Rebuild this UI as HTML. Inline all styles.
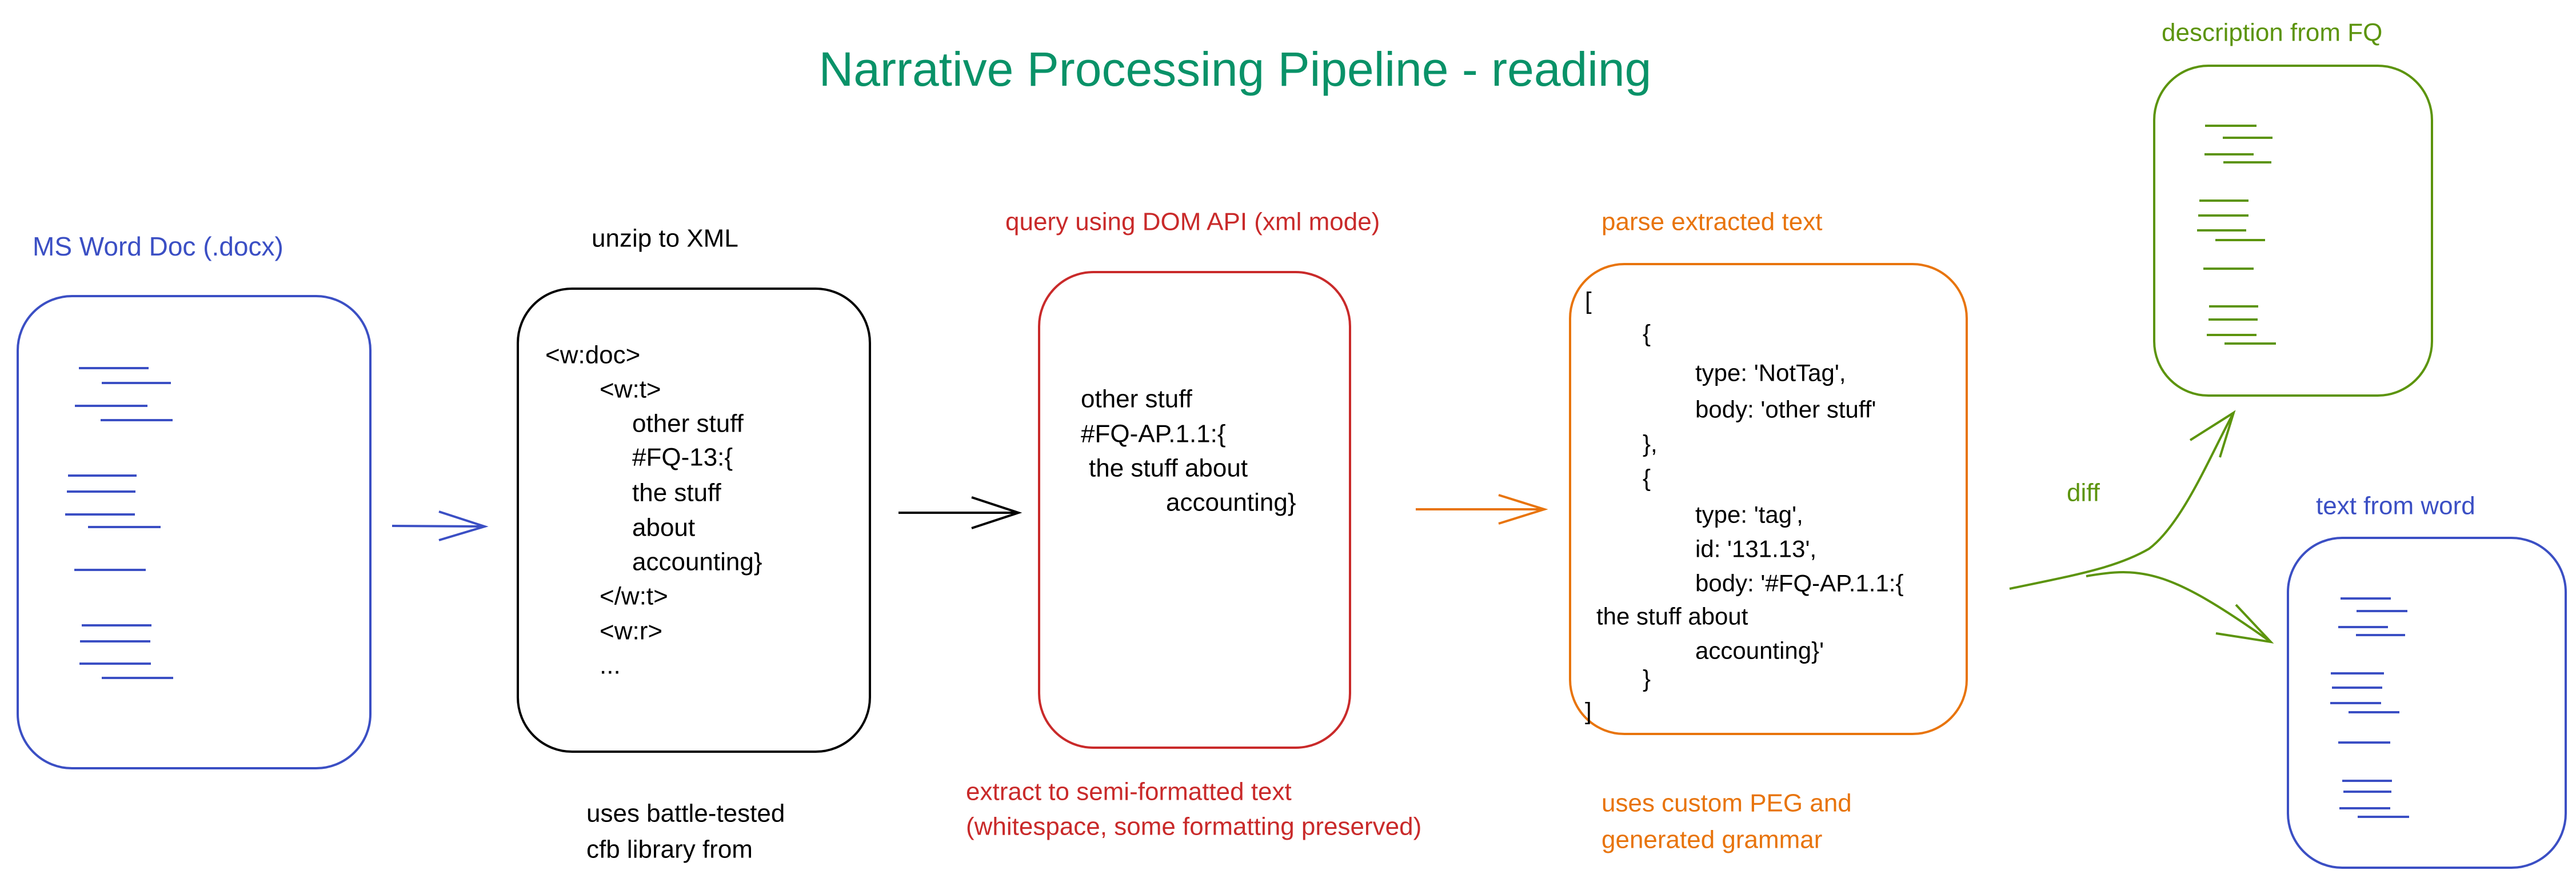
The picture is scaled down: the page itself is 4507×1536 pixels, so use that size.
<!DOCTYPE html>
<html><head><meta charset="utf-8"><style>
html,body{margin:0;padding:0;background:#fff}
svg{display:block}
text{font-family:"Liberation Sans",sans-serif;dominant-baseline:central}
</style></head><body>
<svg width="4507" height="1536" viewBox="0 0 4507 1536" xmlns="http://www.w3.org/2000/svg">
<text x="2161" y="121" font-size="84" fill="#099268" text-anchor="middle">Narrative Processing Pipeline - reading</text>

<!-- Word doc -->
<text x="57" y="431" font-size="46" fill="#3b4fc4">MS Word Doc (.docx)</text>
<rect x="31" y="518" width="617" height="826" rx="95" fill="none" stroke="#3b4fc4" stroke-width="4"/>
<g stroke="#3b4fc4" stroke-width="4">
<line x1="138" y1="644" x2="260" y2="644"/><line x1="178" y1="670" x2="299" y2="670"/>
<line x1="131" y1="710" x2="258" y2="710"/><line x1="176" y1="735" x2="302" y2="735"/>
<line x1="119" y1="832" x2="239" y2="832"/><line x1="117" y1="860" x2="237" y2="860"/>
<line x1="114" y1="900" x2="236" y2="900"/><line x1="154" y1="922" x2="281" y2="922"/>
<line x1="130" y1="997" x2="255" y2="997"/><line x1="143" y1="1094" x2="265" y2="1094"/>
<line x1="140" y1="1122" x2="263" y2="1122"/><line x1="139" y1="1161" x2="264" y2="1161"/>
<line x1="178" y1="1186" x2="303" y2="1186"/>
</g>
<g stroke="#3b4fc4" stroke-width="4" fill="none"><line x1="686" y1="920" x2="848" y2="921"/><polyline points="768,895 848,921 768,945"/></g>

<!-- XML box -->
<text x="1035" y="417" font-size="44" fill="#000">unzip to XML</text>
<rect x="906" y="505" width="616" height="810" rx="95" fill="none" stroke="#000" stroke-width="4"/>
<g font-size="44" fill="#000">
<text x="954" y="621">&lt;w:doc&gt;</text>
<text x="1049" y="681">&lt;w:t&gt;</text>
<text x="1106" y="741">other stuff</text>
<text x="1106" y="800">#FQ-13:{</text>
<text x="1106" y="862">the stuff</text>
<text x="1106" y="923">about</text>
<text x="1106" y="983">accounting}</text>
<text x="1049" y="1043">&lt;/w:t&gt;</text>
<text x="1049" y="1104">&lt;w:r&gt;</text>
<text x="1049" y="1164">...</text>
<text x="1026" y="1423">uses battle-tested</text>
<text x="1026" y="1486">cfb library from</text>
</g>
<g stroke="#000" stroke-width="4" fill="none"><line x1="1572" y1="897" x2="1782" y2="897"/><polyline points="1700,870 1782,897 1700,924"/></g>

<!-- DOM box -->
<text x="1759" y="388" font-size="44" fill="#c92a2a">query using DOM API (xml mode)</text>
<rect x="1818" y="476" width="544" height="832" rx="95" fill="none" stroke="#c92a2a" stroke-width="4"/>
<g font-size="44" fill="#000">
<text x="1891" y="698">other stuff</text>
<text x="1891" y="759">#FQ-AP.1.1:{</text>
<text x="1905" y="819"> the stuff about</text>
<text x="2040" y="879">accounting}</text>
</g>
<g font-size="44" fill="#c92a2a">
<text x="1690" y="1385">extract to semi-formatted text</text>
<text x="1690" y="1446">(whitespace, some formatting preserved)</text>
</g>
<g stroke="#e8740c" stroke-width="4" fill="none"><line x1="2477" y1="891" x2="2702" y2="891"/><polyline points="2622,866 2702,891 2622,916"/></g>

<!-- Parse box -->
<text x="2802" y="388" font-size="44" fill="#e8740c">parse extracted text</text>
<rect x="2747" y="462" width="694" height="822" rx="95" fill="none" stroke="#e8740c" stroke-width="4"/>
<g font-size="42" fill="#000">
<text x="2773" y="526">[</text>
<text x="2874" y="583">{</text>
<text x="2966" y="652">type: 'NotTag',</text>
<text x="2966" y="716">body: 'other stuff'</text>
<text x="2874" y="776">},</text>
<text x="2874" y="836">{</text>
<text x="2966" y="900">type: 'tag',</text>
<text x="2966" y="960">id: '131.13',</text>
<text x="2966" y="1020">body: '#FQ-AP.1.1:{</text>
<text x="2793" y="1078">the stuff about</text>
<text x="2966" y="1138">accounting}'</text>
<text x="2874" y="1187">}</text>
<text x="2773" y="1244">]</text>
</g>
<g font-size="44" fill="#e8740c">
<text x="2802" y="1405">uses custom PEG and</text>
<text x="2802" y="1469">generated grammar</text>
</g>

<!-- diff -->
<text x="3616" y="862" font-size="44" fill="#5c940d">diff</text>
<g stroke="#5c940d" stroke-width="4" fill="none">
<path d="M3516,1030 C3620,1008 3700,995 3760,960 C3820,915 3870,790 3908,722"/>
<path d="M3650,1008 C3750,990 3800,1000 3973,1123"/>
<polyline points="3832,770 3908,722 3884,800"/>
<polyline points="3877,1108 3973,1123 3912,1058"/>
</g>

<!-- Green box -->
<text x="3782" y="57" font-size="44" fill="#5c940d">description from FQ</text>
<rect x="3769" y="115" width="486" height="577" rx="95" fill="none" stroke="#5c940d" stroke-width="4"/>
<g stroke="#5c940d" stroke-width="4">
<line x1="3858" y1="220" x2="3948" y2="220"/><line x1="3889" y1="241" x2="3976" y2="241"/>
<line x1="3857" y1="270" x2="3943" y2="270"/><line x1="3890" y1="284" x2="3974" y2="284"/>
<line x1="3848" y1="351" x2="3934" y2="351"/><line x1="3846" y1="377" x2="3934" y2="377"/>
<line x1="3844" y1="403" x2="3930" y2="403"/><line x1="3876" y1="420" x2="3963" y2="420"/>
<line x1="3855" y1="470" x2="3943" y2="470"/><line x1="3865" y1="536" x2="3951" y2="536"/>
<line x1="3864" y1="559" x2="3950" y2="559"/><line x1="3861" y1="586" x2="3948" y2="586"/>
<line x1="3892" y1="601" x2="3982" y2="601"/>
</g>

<!-- Blue right box -->
<text x="4052" y="885" font-size="44" fill="#3b4fc4">text from word</text>
<rect x="4003" y="941" width="486" height="577" rx="95" fill="none" stroke="#3b4fc4" stroke-width="4"/>
<g stroke="#3b4fc4" stroke-width="4">
<line x1="4095" y1="1047" x2="4183" y2="1047"/><line x1="4123" y1="1069" x2="4212" y2="1069"/>
<line x1="4091" y1="1097" x2="4178" y2="1097"/><line x1="4122" y1="1111" x2="4208" y2="1111"/>
<line x1="4078" y1="1178" x2="4171" y2="1178"/><line x1="4080" y1="1203" x2="4168" y2="1203"/>
<line x1="4077" y1="1230" x2="4166" y2="1230"/><line x1="4109" y1="1246" x2="4198" y2="1246"/>
<line x1="4091" y1="1299" x2="4182" y2="1299"/><line x1="4098" y1="1366" x2="4185" y2="1366"/>
<line x1="4100" y1="1385" x2="4184" y2="1385"/><line x1="4093" y1="1414" x2="4182" y2="1414"/>
<line x1="4125" y1="1429" x2="4215" y2="1429"/>
</g>
</svg>
</body></html>
